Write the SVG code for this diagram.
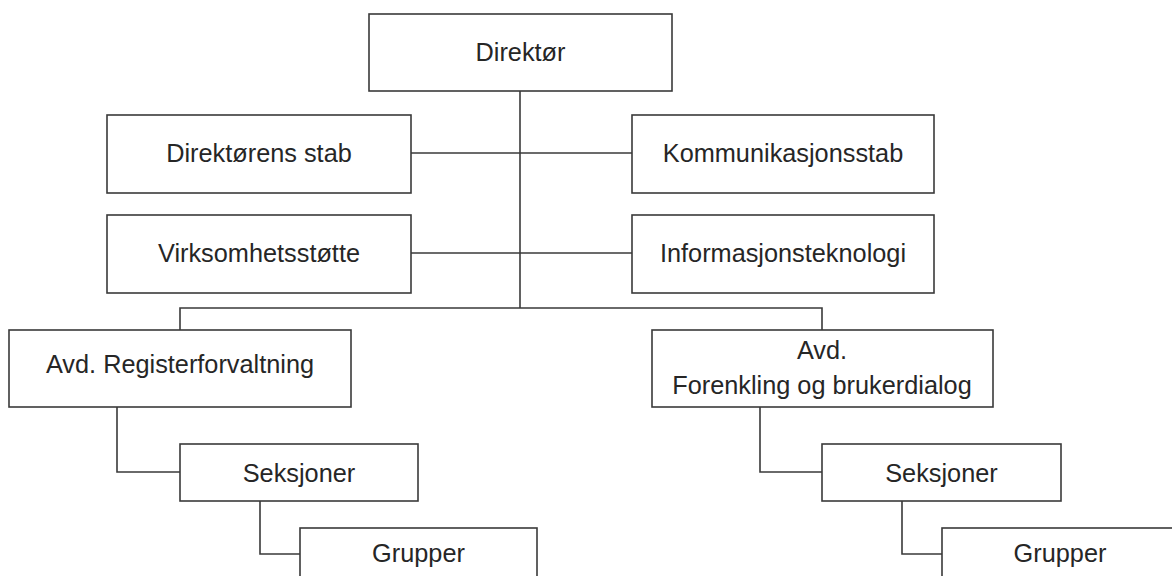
<svg xmlns="http://www.w3.org/2000/svg" width="1172" height="576" viewBox="0 0 1172 576">
  <style>
    .box { fill: #ffffff; stroke: #3a3a3a; stroke-width: 1.6; }
    .lbl { font-family: "Liberation Sans", Arial, sans-serif; font-size: 25.3px; fill: #262626; text-anchor: middle; }
    .wire { fill: none; stroke: #3a3a3a; stroke-width: 1.6; }
  </style>
  <rect width="1172" height="576" fill="#ffffff"/>

  <!-- connectors -->
  <g id="connectors">
    <path class="wire" d="M520 91 V308"/>
    <path class="wire" d="M411 153 H632"/>
    <path class="wire" d="M411 253 H632"/>
    <path class="wire" d="M180 330 V308 H822 V330"/>
    <path class="wire" d="M117 407 V472 H180"/>
    <path class="wire" d="M260 501 V554 H300"/>
    <path class="wire" d="M760 407 V472 H822"/>
    <path class="wire" d="M902 501 V554 H942"/>
  </g>

  <g id="direktor">
    <rect class="box" x="369" y="14" width="303" height="77"/>
    <text class="lbl" x="520.5" y="61">Direktør</text>
  </g>
  <g id="direktorens-stab">
    <rect class="box" x="107" y="115" width="304" height="78"/>
    <text class="lbl" x="259" y="162">Direktørens stab</text>
  </g>
  <g id="kommunikasjonsstab">
    <rect class="box" x="632" y="115" width="302" height="78"/>
    <text class="lbl" x="783" y="162">Kommunikasjonsstab</text>
  </g>
  <g id="virksomhetsstotte">
    <rect class="box" x="107" y="215" width="304" height="78"/>
    <text class="lbl" x="259" y="262">Virksomhetsstøtte</text>
  </g>
  <g id="informasjonsteknologi">
    <rect class="box" x="632" y="215" width="302" height="78"/>
    <text class="lbl" x="783" y="262">Informasjonsteknologi</text>
  </g>
  <g id="avd-registerforvaltning">
    <rect class="box" x="9" y="330" width="342" height="77"/>
    <text class="lbl" x="180" y="373">Avd. Registerforvaltning</text>
  </g>
  <g id="avd-forenkling">
    <rect class="box" x="652" y="330" width="341" height="77"/>
    <text class="lbl" x="822" y="359">Avd.</text>
    <text class="lbl" x="822" y="394">Forenkling og brukerdialog</text>
  </g>
  <g id="seksjoner-venstre">
    <rect class="box" x="180" y="444" width="238" height="57"/>
    <text class="lbl" x="299" y="482">Seksjoner</text>
  </g>
  <g id="seksjoner-hoyre">
    <rect class="box" x="822" y="444" width="239" height="57"/>
    <text class="lbl" x="941.5" y="482">Seksjoner</text>
  </g>
  <g id="grupper-venstre">
    <rect class="box" x="300" y="528" width="237" height="60"/>
    <text class="lbl" x="418.5" y="562">Grupper</text>
  </g>
  <g id="grupper-hoyre">
    <rect class="box" x="942" y="528" width="237" height="60"/>
    <text class="lbl" x="1060" y="562">Grupper</text>
  </g>
</svg>
